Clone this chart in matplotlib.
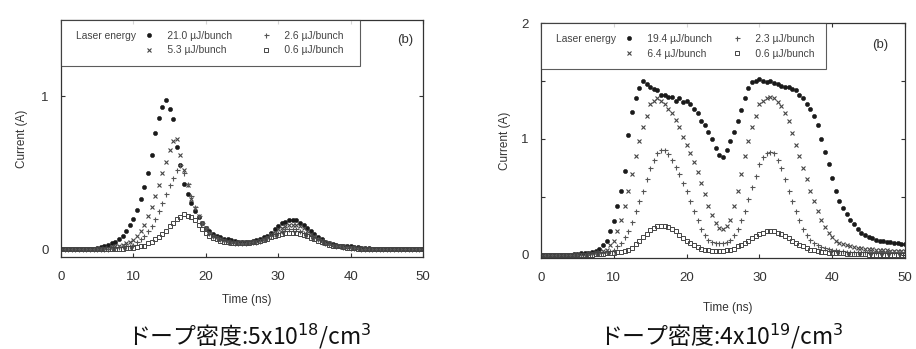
import numpy as np
import matplotlib
matplotlib.use("Agg")
import matplotlib.pyplot as plt
from matplotlib.lines import Line2D

plt.rcParams['font.family'] = ['Liberation Sans', 'DejaVu Sans']

# time axis (ns), one reading every 0.5 ns
time_ns = np.arange(0, 50.01, 0.5)

# ---- left panel: doping 5x10^18 /cm3 ----
left_labels = ["21.0 µJ/bunch", "5.3 µJ/bunch", "2.6 µJ/bunch", "0.6 µJ/bunch"]
left_21_0 = [
    0, 0, 0, 0, 0, 0, 0, 0, 0.005, 0.005, 0.01, 0.015, 0.02, 0.03, 0.04, 0.05, 0.07, 0.09, 0.12, 0.16,
    0.2, 0.26, 0.33, 0.41, 0.5, 0.62, 0.76, 0.86, 0.93, 0.98, 0.92, 0.85, 0.67, 0.55, 0.43, 0.36, 0.3, 0.25, 0.21, 0.17,
    0.14, 0.12, 0.1, 0.09, 0.08, 0.07, 0.065, 0.06, 0.055, 0.05, 0.05, 0.05, 0.05, 0.055, 0.06, 0.07, 0.08, 0.09, 0.11, 0.13,
    0.15, 0.17, 0.18, 0.19, 0.19, 0.19, 0.17, 0.16, 0.14, 0.12, 0.1, 0.08, 0.065, 0.05, 0.04, 0.035, 0.03, 0.025, 0.02, 0.02,
    0.02, 0.015, 0.015, 0.01, 0.01, 0.01, 0.005, 0.005, 0.005, 0.005, 0, 0, 0, 0, 0, 0, 0, 0, 0, 0, 0]
left_5_3 = [
    0, 0, 0, 0, 0, 0, 0, 0, 0, 0, 0.005, 0.005, 0.01, 0.01, 0.015, 0.02, 0.025, 0.03, 0.04, 0.05,
    0.06, 0.09, 0.12, 0.16, 0.22, 0.28, 0.35, 0.42, 0.5, 0.57, 0.65, 0.71, 0.72, 0.62, 0.52, 0.42, 0.33, 0.27, 0.22, 0.17,
    0.14, 0.11, 0.09, 0.08, 0.07, 0.06, 0.055, 0.05, 0.045, 0.045, 0.045, 0.045, 0.05, 0.05, 0.055, 0.06, 0.07, 0.08, 0.1, 0.11,
    0.13, 0.14, 0.15, 0.16, 0.16, 0.16, 0.15, 0.14, 0.12, 0.1, 0.09, 0.07, 0.06, 0.05, 0.04, 0.03, 0.025, 0.02, 0.02, 0.015,
    0.015, 0.01, 0.01, 0.01, 0.005, 0.005, 0.005, 0.005, 0, 0, 0, 0, 0, 0, 0, 0, 0, 0, 0, 0, 0]
left_2_6 = [
    0, 0, 0, 0, 0, 0, 0, 0, 0, 0, 0, 0, 0.005, 0.005, 0.01, 0.01, 0.015, 0.02, 0.02, 0.025,
    0.03, 0.05, 0.07, 0.09, 0.12, 0.15, 0.2, 0.25, 0.3, 0.36, 0.42, 0.47, 0.52, 0.55, 0.5, 0.43, 0.35, 0.28, 0.22, 0.17,
    0.14, 0.11, 0.09, 0.075, 0.065, 0.055, 0.05, 0.045, 0.04, 0.04, 0.04, 0.04, 0.045, 0.05, 0.05, 0.055, 0.065, 0.075, 0.085, 0.1,
    0.11, 0.12, 0.13, 0.13, 0.13, 0.13, 0.12, 0.11, 0.1, 0.09, 0.075, 0.065, 0.05, 0.04, 0.035, 0.03, 0.025, 0.02, 0.015, 0.015,
    0.01, 0.01, 0.01, 0.005, 0.005, 0.005, 0.005, 0, 0, 0, 0, 0, 0, 0, 0, 0, 0, 0, 0, 0, 0]
left_0_6 = [
    0, 0, 0, 0, 0, 0, 0, 0, 0, 0, 0, 0, 0, 0, 0.005, 0.005, 0.005, 0.005, 0.01, 0.01,
    0.01, 0.015, 0.02, 0.025, 0.04, 0.05, 0.065, 0.08, 0.1, 0.12, 0.15, 0.17, 0.2, 0.21, 0.23, 0.22, 0.21, 0.19, 0.16, 0.13,
    0.11, 0.09, 0.075, 0.065, 0.055, 0.05, 0.045, 0.04, 0.04, 0.04, 0.04, 0.04, 0.04, 0.045, 0.05, 0.055, 0.06, 0.07, 0.08, 0.09,
    0.095, 0.1, 0.11, 0.11, 0.11, 0.11, 0.1, 0.095, 0.085, 0.075, 0.065, 0.055, 0.045, 0.04, 0.03, 0.025, 0.02, 0.02, 0.015, 0.01,
    0.01, 0.01, 0.005, 0.005, 0.005, 0, 0, 0, 0, 0, 0, 0, 0, 0, 0, 0, 0, 0, 0, 0, 0]

# ---- right panel: doping 4x10^19 /cm3 ----
right_labels = ["19.4 µJ/bunch", "6.4 µJ/bunch", "2.3 µJ/bunch", "0.6 µJ/bunch"]
right_19_4 = [
    0, 0, 0, 0, 0, 0, 0, 0, 0, 0.005, 0.005, 0.01, 0.01, 0.015, 0.02, 0.03, 0.05, 0.08, 0.12, 0.2,
    0.29, 0.42, 0.55, 0.72, 1.03, 1.23, 1.35, 1.44, 1.5, 1.47, 1.45, 1.43, 1.42, 1.38, 1.38, 1.36, 1.36, 1.33, 1.35, 1.32,
    1.33, 1.3, 1.26, 1.22, 1.15, 1.12, 1.06, 1.0, 0.92, 0.86, 0.84, 0.9, 0.98, 1.06, 1.15, 1.25, 1.35, 1.44, 1.49, 1.5,
    1.52, 1.5, 1.49, 1.5, 1.48, 1.47, 1.46, 1.45, 1.45, 1.43, 1.42, 1.38, 1.35, 1.3, 1.26, 1.2, 1.12, 1.0, 0.89, 0.78,
    0.66, 0.55, 0.46, 0.4, 0.35, 0.3, 0.26, 0.22, 0.19, 0.17, 0.15, 0.14, 0.13, 0.12, 0.12, 0.11, 0.11, 0.1, 0.1, 0.09, 0.09]
right_6_4 = [
    0, 0, 0, 0, 0, 0, 0, 0, 0, 0, 0, 0.005, 0.005, 0.01, 0.015, 0.02, 0.025, 0.03, 0.04, 0.08,
    0.12, 0.2, 0.3, 0.42, 0.55, 0.7, 0.85, 0.98, 1.1, 1.2, 1.3, 1.33, 1.35, 1.33, 1.3, 1.26, 1.22, 1.16, 1.1, 1.02,
    0.95, 0.88, 0.8, 0.71, 0.62, 0.52, 0.42, 0.34, 0.27, 0.23, 0.22, 0.25, 0.3, 0.42, 0.55, 0.7, 0.85, 0.98, 1.1, 1.2,
    1.3, 1.33, 1.35, 1.36, 1.35, 1.32, 1.28, 1.22, 1.15, 1.05, 0.95, 0.85, 0.75, 0.65, 0.55, 0.46, 0.38, 0.3, 0.24, 0.19,
    0.15, 0.12, 0.1, 0.09, 0.08, 0.07, 0.065, 0.06, 0.055, 0.05, 0.05, 0.045, 0.04, 0.04, 0.035, 0.035, 0.03, 0.03, 0.03, 0.03, 0.03]
right_2_3 = [
    0, 0, 0, 0, 0, 0, 0, 0, 0, 0, 0, 0, 0, 0.005, 0.005, 0.01, 0.01, 0.015, 0.02, 0.03,
    0.04, 0.07, 0.1, 0.15, 0.2, 0.28, 0.38, 0.46, 0.55, 0.65, 0.75, 0.82, 0.88, 0.9, 0.9, 0.87, 0.82, 0.76, 0.7, 0.62,
    0.55, 0.46, 0.38, 0.3, 0.22, 0.17, 0.13, 0.11, 0.1, 0.1, 0.1, 0.11, 0.13, 0.17, 0.22, 0.3, 0.38, 0.48, 0.58, 0.68,
    0.78, 0.84, 0.88, 0.89, 0.88, 0.82, 0.75, 0.65, 0.55, 0.46, 0.38, 0.3, 0.22, 0.17, 0.13, 0.1, 0.08, 0.065, 0.055, 0.045,
    0.04, 0.035, 0.03, 0.03, 0.025, 0.025, 0.02, 0.02, 0.02, 0.02, 0.02, 0.02, 0.02, 0.02, 0.02, 0.02, 0.02, 0.02, 0.02, 0.02, 0.02]
right_0_6 = [
    0, 0, 0, 0, 0, 0, 0, 0, 0, 0, 0, 0, 0, 0, 0, 0.005, 0.005, 0.005, 0.01, 0.01,
    0.015, 0.02, 0.025, 0.03, 0.04, 0.06, 0.09, 0.12, 0.15, 0.18, 0.21, 0.23, 0.25, 0.25, 0.25, 0.24, 0.22, 0.2, 0.17, 0.14,
    0.12, 0.1, 0.08, 0.065, 0.05, 0.04, 0.035, 0.03, 0.03, 0.03, 0.03, 0.035, 0.04, 0.05, 0.07, 0.085, 0.1, 0.12, 0.14, 0.16,
    0.18, 0.19, 0.2, 0.2, 0.2, 0.19, 0.18, 0.16, 0.14, 0.12, 0.1, 0.085, 0.07, 0.055, 0.04, 0.035, 0.03, 0.025, 0.02, 0.015,
    0.015, 0.01, 0.01, 0.01, 0.005, 0.005, 0.005, 0.005, 0.005, 0.005, 0, 0, 0, 0, 0, 0, 0, 0, 0, 0, 0]

captions = ["ドープ密度:5x10$^{18}$/cm$^{3}$", "ドープ密度:4x10$^{19}$/cm$^{3}$"]

# marker style per series (strongest laser first)
styles = [
    dict(marker='o', ms=3.0, mfc='#1a1a1a', mec='#1a1a1a', mew=0.4),
    dict(marker='x', ms=3.2, mfc='none', mec='#444444', mew=0.8),
    dict(marker='+', ms=3.6, mfc='none', mec='#555555', mew=0.8),
    dict(marker='s', ms=2.8, mfc='none', mec='#444444', mew=0.7),
]


def draw_panel(ax, series, labels, ylim, yticks, yticklabels, ylabelpad, b_xy, tails):
    for y, st in zip(series, styles):
        ax.plot(time_ns, y, linestyle='none', **st)
    ax.set_xlim(0, 50)
    ax.set_ylim(*ylim)
    ax.set_xticks([0, 10, 20, 30, 40, 50])
    ax.set_yticks(yticks)
    ax.set_yticklabels(yticklabels)
    ax.tick_params(direction='in', top=True, right=True, length=3, width=0.8,
                   labelsize=9.5, colors='#333333')
    ax.tick_params(axis='x', pad=10)
    ax.tick_params(axis='y', pad=9)
    for s in ax.spines.values():
        s.set_linewidth(0.9)
        s.set_color('#333333')
    ax.set_xlabel("Time (ns)", fontsize=8.5, color='#333333', labelpad=8)
    ax.set_ylabel("Current (A)", fontsize=8.5, color='#333333', labelpad=ylabelpad)

    # legend: "Laser energy" then 2x2 entries, markers before labels
    blank = Line2D([], [], linestyle='none')
    h = [Line2D([], [], linestyle='none', **st) for st in styles]
    handles = [blank, blank, h[0], h[1], h[2], h[3]]
    gap = "     "
    t2, t3 = " " * tails[0], " " * tails[1]
    texts = ["Laser energy", "",
             gap + labels[0] + t2, gap + labels[1] + t2,
             gap + labels[2] + t3, gap + labels[3] + t3]
    leg = ax.legend(handles, texts, ncol=3, loc='upper left', bbox_to_anchor=(0, 1),
                    borderaxespad=0, fontsize=7.4, frameon=True, fancybox=False,
                    handlelength=0, handletextpad=0.4, columnspacing=1.3,
                    labelspacing=0.45, borderpad=1.05)
    leg.get_frame().set_edgecolor('#333333')
    leg.get_frame().set_linewidth(0.8)
    for t in leg.get_texts():
        t.set_color('#444444')
    ax.text(b_xy[0], b_xy[1], "(b)", transform=ax.transAxes, ha='right', va='center',
            fontsize=9.5, color='#333333')


fig = plt.figure(figsize=(9.16, 3.49), dpi=100)
ax1 = fig.add_axes([0.0666, 0.2636, 0.3952, 0.679])
ax2 = fig.add_axes([0.5906, 0.2607, 0.3974, 0.673])

draw_panel(ax1, [left_21_0, left_5_3, left_2_6, left_0_6], left_labels,
           (-0.05, 1.5), [0, 1], ['0', '1'], 9.5, (0.972, 0.916), (7, 2))
draw_panel(ax2, [right_19_4, right_6_4, right_2_3, right_0_6], right_labels,
           (-0.03, 2.0), [0, 0.5, 1, 1.5, 2], ['0', '', '1', '', '2'], 7.5, (0.953, 0.906), (4, 0))
ax1.xaxis.set_label_coords(0.514, -0.156)
ax2.xaxis.set_label_coords(0.514, -0.187)

cjk = ['Noto Sans CJK JP', 'DejaVu Sans']
fig.text(0.272, 0.037, captions[0], ha='center', va='center', fontsize=16.5,
         family=cjk, color='#111111')
fig.text(0.788, 0.037, captions[1], ha='center', va='center', fontsize=16.5,
         family=cjk, color='#111111')

fig.savefig("out.png", dpi=100)
